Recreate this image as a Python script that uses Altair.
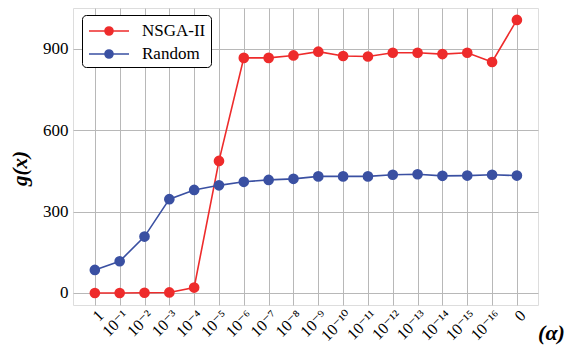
import altair as alt
import pandas as pd

alpha_labels = ["1", "10⁻¹", "10⁻²", "10⁻³", "10⁻⁴", "10⁻⁵", "10⁻⁶", "10⁻⁷", "10⁻⁸",
                "10⁻⁹", "10⁻¹⁰", "10⁻¹¹", "10⁻¹²", "10⁻¹³", "10⁻¹⁴", "10⁻¹⁵", "10⁻¹⁶", "0"]
nsga_values = [0, 0, 1, 2, 20, 487, 867, 867, 876, 890, 874, 872, 886, 886, 881, 886, 852, 1007]
random_values = [85, 117, 208, 346, 380, 397, 410, 417, 421, 430, 430, 430, 436, 438, 432, 433, 436, 433]
series_names = ["NSGA-II", "Random"]
series_colors = ["#ee2b2b", "#3a50a2"]
y_ticks = [0, 300, 600, 900]

rows = []
for i, lab in enumerate(alpha_labels):
    rows.append({"idx": i, "alpha": lab, "series": series_names[0], "g": nsga_values[i]})
for i, lab in enumerate(alpha_labels):
    rows.append({"idx": i, "alpha": lab, "series": series_names[1], "g": random_values[i]})
df = pd.DataFrame(rows)

label_expr = "[" + ",".join("'" + l + "'" for l in alpha_labels) + "][datum.value]"
FONT = "Liberation Serif, Times New Roman, DejaVu Serif, serif"

x_enc = alt.X("idx:Q",
              scale=alt.Scale(domain=[-0.88, 17.85], nice=False, zero=False),
              axis=alt.Axis(values=list(range(len(alpha_labels))), labelExpr=label_expr,
                            labelAngle=-45, labelFont=FONT, labelFontSize=16, labelColor="black",
                            labelPadding=2, ticks=False, domain=False, grid=True,
                            gridColor="#b8b8b8", gridWidth=1,
                            title="(α)", titleFont=FONT, titleFontSize=22, titleFontWeight="bold",
                            titleFontStyle="italic", titleX=478, titleY=27, titleAlign="center",
                            titleBaseline="middle", labelOverlap=False, labelFlush=False))
y_enc = alt.Y("g:Q",
              scale=alt.Scale(domain=[-44.3, 1051], nice=False, zero=False),
              axis=alt.Axis(values=y_ticks, labelFont=FONT, labelFontSize=17, labelColor="black",
                            labelPadding=5, ticks=False, domain=False, grid=True,
                            gridColor="#b8b8b8", gridWidth=1,
                            title="g(x)", titleFont=FONT, titleFontSize=21, titleFontWeight="bold",
                            titleFontStyle="italic", titleX=-53, titleY=160, titleAlign="center",
                            titleBaseline="middle"))

sym_path = "M-2,0L2,0M-0.4,0A0.4,0.4 0 1,0 0.4,0A0.4,0.4 0 1,0 -0.4,0Z"
legend = alt.Legend(title=None, orient="none", legendX=9, legendY=7,
                    symbolType=sym_path, symbolSize=400, symbolStrokeWidth=1.6,
                    symbolOffset=11, labelOffset=22, padding=5, rowPadding=4,
                    labelFont=FONT, labelFontSize=17, labelColor="black",
                    fillColor="white", strokeColor="black", cornerRadius=4)
color_scale = alt.Scale(domain=series_names, range=series_colors)

lines = alt.Chart(df).mark_line(strokeWidth=1.6).encode(
    x=x_enc, y=y_enc,
    stroke=alt.Stroke("series:N", scale=color_scale, legend=legend),
)

points = alt.Chart(df).mark_point(filled=True, size=75, opacity=1).encode(
    x=x_enc, y=y_enc,
    fill=alt.Fill("series:N", scale=color_scale, legend=legend),
    stroke=alt.Stroke("series:N", scale=color_scale, legend=legend),
)

chart = alt.layer(lines, points).properties(
    width=465, height=297,
    autosize=alt.AutoSizeParams(type="none"),
    padding={"left": 65, "top": 0, "right": 32, "bottom": 40},
).configure_view(stroke="black", strokeWidth=1.5).configure(background="white")

chart.save("out.html", embed_options={"renderer": "svg", "actions": False})
